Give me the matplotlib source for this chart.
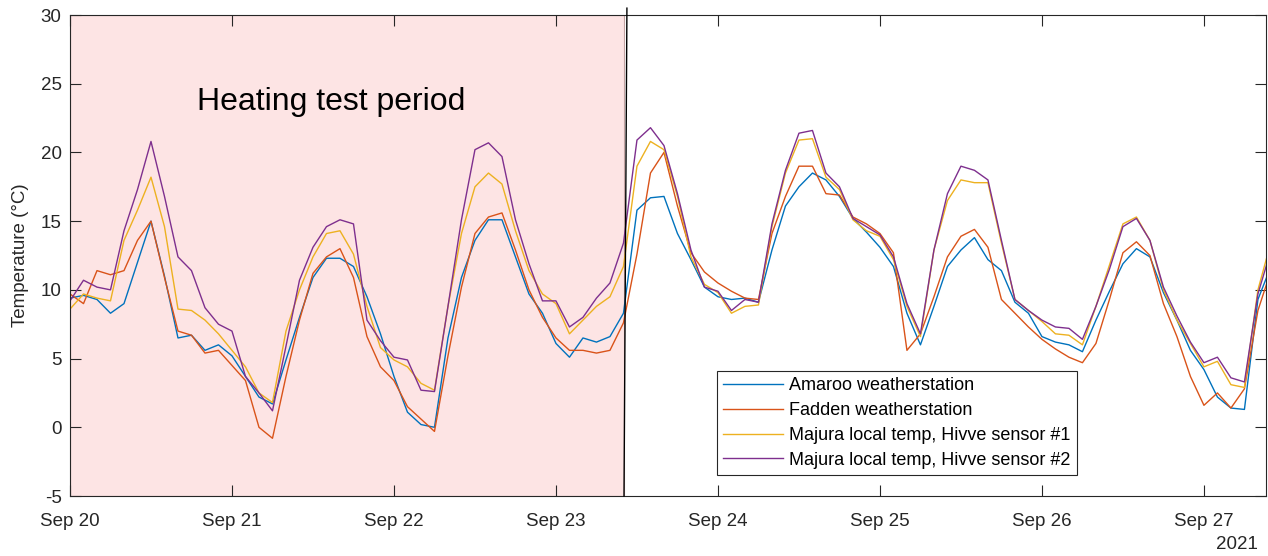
import matplotlib
matplotlib.use("Agg")
import matplotlib.pyplot as plt
import matplotlib.dates as mdates
import pandas as pd
from datetime import datetime, timedelta

plt.rcParams['font.family'] = ['Liberation Sans', 'DejaVu Sans']
plt.rcParams['axes.unicode_minus'] = False

# 2-hourly readings from Sep 20 00:00
times = pd.date_range("2021-09-20 00:00", periods=90, freq="2h")

amaroo = [
    9.4, 9.6, 9.3, 8.3, 9.0, 12.0, 15.0, 11.0, 6.5, 6.7, 5.6, 6.0,
    5.2, 3.7, 2.2, 1.7, 4.9, 8.0, 10.9, 12.3, 12.3, 11.7, 9.5, 6.8,
    3.7, 1.1, 0.2, 0.0, 6.5, 10.9, 13.6, 15.1, 15.1, 12.4, 9.7, 8.3,
    6.1, 5.1, 6.5, 6.2, 6.6, 8.3, 15.8, 16.7, 16.8, 14.1, 12.2, 10.2,
    9.5, 9.3, 9.4, 9.1, 12.9, 16.1, 17.5, 18.5, 18.0, 16.8, 15.2, 14.2,
    13.1, 11.7, 8.3, 6.0, 8.8, 11.7, 12.9, 13.8, 12.2, 11.4, 9.1, 8.3,
    6.6, 6.2, 6.0, 5.5, 7.8, 9.9, 11.9, 13.0, 12.4, 9.8, 7.8, 5.6,
    4.2, 2.2, 1.4, 1.3, 9.3, 11.8,
]
fadden = [
    9.7, 9.0, 11.4, 11.1, 11.4, 13.6, 15.0, 10.9, 7.0, 6.7, 5.4, 5.6,
    4.5, 3.4, 0.0, -0.8, 3.7, 7.8, 11.2, 12.4, 13.0, 10.9, 6.6, 4.4,
    3.4, 1.5, 0.6, -0.3, 5.2, 10.2, 14.1, 15.3, 15.6, 12.9, 10.0, 8.0,
    6.5, 5.6, 5.6, 5.4, 5.6, 7.6, 12.6, 18.5, 20.0, 16.1, 12.7, 11.3,
    10.5, 9.9, 9.4, 9.3, 14.1, 16.8, 19.0, 19.0, 17.0, 16.9, 15.3, 14.8,
    14.1, 12.7, 5.6, 6.8, 9.5, 12.4, 13.9, 14.4, 13.1, 9.3, 8.3, 7.3,
    6.4, 5.7, 5.1, 4.7, 6.1, 9.3, 12.7, 13.5, 12.5, 9.0, 6.6, 3.7,
    1.6, 2.5, 1.4, 2.8, 8.5, 11.5,
]
majura_1 = [
    8.6, 9.7, 9.4, 9.2, 13.6, 15.8, 18.2, 14.6, 8.6, 8.5, 7.8, 6.8,
    5.6, 4.4, 2.5, 1.8, 7.0, 10.0, 12.4, 14.1, 14.3, 12.6, 8.8, 5.8,
    4.9, 4.4, 3.2, 2.7, 8.8, 14.1, 17.5, 18.5, 17.7, 14.3, 11.4, 9.7,
    9.0, 6.8, 7.8, 8.8, 9.5, 11.7, 19.0, 20.8, 20.2, 16.8, 12.4, 10.4,
    9.8, 8.3, 8.8, 8.9, 14.6, 18.5, 20.9, 21.0, 18.2, 17.3, 15.1, 14.3,
    13.9, 12.2, 8.8, 6.6, 12.9, 16.5, 18.0, 17.8, 17.8, 13.4, 9.3, 8.5,
    7.7, 6.8, 6.7, 6.0, 8.8, 11.8, 14.8, 15.3, 13.6, 10.0, 7.8, 6.1,
    4.4, 4.8, 3.1, 2.9, 10.0, 13.6,
]
majura_2 = [
    9.2, 10.7, 10.2, 10.0, 14.3, 17.3, 20.8, 16.8, 12.4, 11.4, 8.7, 7.5,
    7.0, 3.7, 2.5, 1.2, 5.9, 10.7, 13.1, 14.6, 15.1, 14.8, 7.8, 6.3,
    5.1, 4.9, 2.7, 2.6, 8.8, 15.1, 20.2, 20.7, 19.7, 15.1, 11.9, 9.2,
    9.2, 7.3, 8.0, 9.4, 10.5, 13.4, 20.9, 21.8, 20.5, 17.0, 12.9, 10.2,
    9.9, 8.5, 9.3, 9.1, 14.8, 18.7, 21.4, 21.6, 18.5, 17.5, 15.2, 14.6,
    14.0, 12.4, 9.0, 6.8, 12.9, 17.0, 19.0, 18.7, 18.0, 13.6, 9.3, 8.5,
    7.8, 7.3, 7.2, 6.4, 8.8, 11.5, 14.6, 15.2, 13.6, 10.2, 8.1, 6.2,
    4.7, 5.1, 3.6, 3.3, 9.7, 13.0,
]

series = [
    ("Amaroo weatherstation", amaroo, "#0072BD"),
    ("Fadden weatherstation", fadden, "#D95319"),
    ("Majura local temp, Hivve sensor #1", majura_1, "#EDB120"),
    ("Majura local temp, Hivve sensor #2", majura_2, "#7E2F8E"),
]

t0 = datetime(2021, 9, 20)
test_end = t0 + timedelta(days=3.42)
test_end_top = t0 + timedelta(days=3.438)
x_end = t0 + timedelta(days=7.383)
axis_col = "#262626"

fig = plt.figure(figsize=(12.68, 5.56), dpi=100)
ax = fig.add_axes([0.0552, 0.1079, 0.9432, 0.8651])

ax.axvspan(t0, test_end, facecolor="#fde4e4", edgecolor="#c4a4a4", lw=0.8, zorder=0)

for label, vals, col in series:
    ax.plot(times, vals, color=col, lw=1.0, label=label)

ax.plot([test_end, test_end_top], [-5, 30.5], color="black", lw=1.0, clip_on=False, zorder=5)

ax.text(t0 + timedelta(days=0.784), 23.7, "Heating test period", fontsize=23,
        ha="left", va="center", color="black")

ax.set_xlim(t0, x_end)
ax.set_ylim(-5, 30)
ax.set_yticks(range(-5, 31, 5))
ax.xaxis.set_major_locator(mdates.DayLocator())
ax.xaxis.set_major_formatter(mdates.DateFormatter("%b %d"))

ax.tick_params(direction="in", length=8, width=0.8, colors=axis_col, labelsize=13.5,
               top=True, right=True)
ax.tick_params(axis="x", pad=12)
ax.tick_params(axis="y", pad=6)
for s in ax.spines.values():
    s.set_color(axis_col)
    s.set_linewidth(0.8)

ax.set_ylabel("Temperature (°C)", fontsize=13.5, color=axis_col)
ax.yaxis.set_label_coords(-0.034, 0.5)

ax.text(0.993, -0.1, "2021", transform=ax.transAxes, ha="right", va="center",
        fontsize=13.5, color=axis_col)

leg = ax.legend(loc="lower left", bbox_to_anchor=(0.541, 0.0437), borderaxespad=0,
                fontsize=13, fancybox=False, framealpha=1, edgecolor=axis_col,
                handlelength=3.3, handletextpad=0.35, labelspacing=0.43,
                borderpad=0.35)
leg.get_frame().set_linewidth(0.8)

fig.savefig("out.png", dpi=100)
plt.close(fig)
